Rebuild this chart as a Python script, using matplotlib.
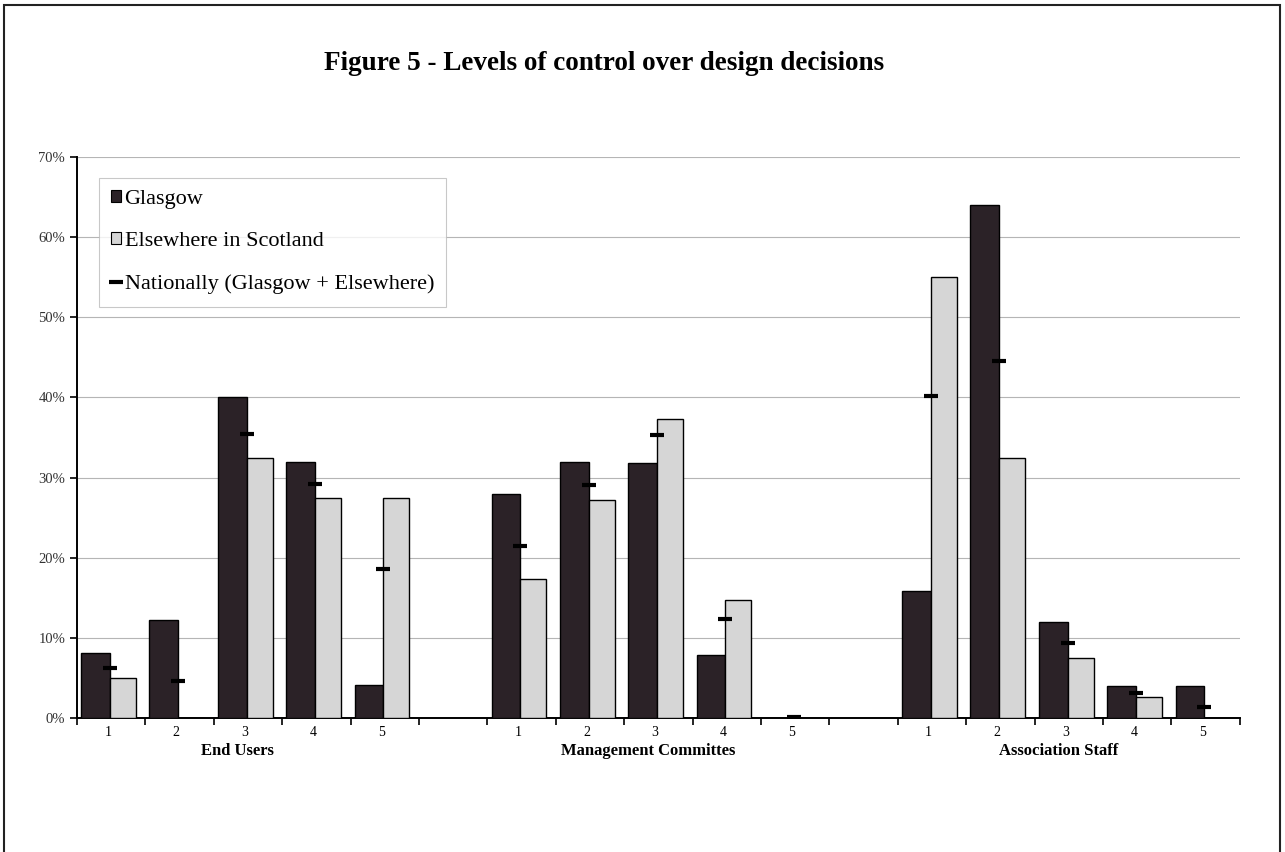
import matplotlib
matplotlib.use("Agg")
import matplotlib.pyplot as plt
from matplotlib.patches import Patch, Rectangle
from matplotlib.lines import Line2D
from matplotlib.ticker import FuncFormatter
import numpy as np

plt.rcParams['font.family'] = ['Liberation Serif', 'DejaVu Serif']

groups = ["End Users", "Management Committes", "Association Staff"]
levels = ["1", "2", "3", "4", "5"]

glasgow = [8.1, 12.2, 40.0, 32.0, 4.1,
           27.9, 31.9, 31.8, 7.9, 0.0,
           15.9, 64.0, 12.0, 4.0, 4.0]
elsewhere = [5.0, 0.0, 32.4, 27.4, 27.4,
             17.4, 27.2, 37.3, 14.7, 0.0,
             55.0, 32.5, 7.5, 2.6, 0.0]
national = [6.25, 4.6, 35.4, 29.2, 18.6,
            21.4, 29.1, 35.3, 12.3, 0.1,
            40.2, 44.6, 9.3, 3.1, 1.4]

dark = "#2b2227"
light = "#d6d6d6"

# slot positions: 5 per group with one empty slot between groups
slots = np.array([g * 6 + k for g in range(3) for k in range(5)], dtype=float)

fig = plt.figure(figsize=(12.85, 8.52), dpi=100)
ax = fig.add_axes([0.0599, 0.1573, 0.905, 0.6584])

ax.bar(slots + 0.06, glasgow, width=0.42, align='edge', color=dark,
       edgecolor='black', linewidth=1.0, zorder=3)
ax.bar(slots + 0.48, elsewhere, width=0.38, align='edge', color=light,
       edgecolor='black', linewidth=1.0, zorder=3)
ax.plot(slots + 0.48, national, linestyle='none', marker='_', markersize=9.5,
        markeredgewidth=3, color='black', zorder=4)

ax.set_xlim(0, 17)
ax.set_ylim(0, 70)
ax.set_yticks(np.arange(0, 71, 10))
ax.yaxis.set_major_formatter(FuncFormatter(lambda v, p: f"{int(v)}%"))
ax.grid(axis='y', color='#b5b5b5', linewidth=0.8, zorder=0)

ax.set_xticks(np.arange(0, 18))
ax.set_xticklabels([])
ax.set_xticks(slots + 0.45, minor=True)
ax.set_xticklabels(levels * 3, minor=True)
ax.tick_params(axis='x', which='major', direction='out', length=5, width=1.2)
ax.tick_params(axis='x', which='minor', length=0, pad=6, labelsize=10)
ax.tick_params(axis='y', direction='out', length=5, width=1.2, labelsize=10.5,
               labelcolor='#333333')

for s in ['top', 'right']:
    ax.spines[s].set_visible(False)
for s in ['left', 'bottom']:
    ax.spines[s].set_linewidth(1.4)

for g, name in enumerate(groups):
    ax.text(g * 6 + 2.35, -0.045, name, transform=ax.get_xaxis_transform(),
            ha='center', va='top', fontsize=12, fontweight='bold')

handles = [Patch(facecolor=dark, edgecolor='black', linewidth=0.8),
           Patch(facecolor=light, edgecolor='black', linewidth=0.8),
           Line2D([0], [0], linestyle='none', marker='_', markersize=10,
                  markeredgewidth=3, color='black')]
leg = ax.legend(handles, ["Glasgow", "Elsewhere in Scotland",
                          "Nationally (Glasgow + Elsewhere)"],
                loc='upper left', bbox_to_anchor=(0.019, 0.963),
                borderaxespad=0, fontsize=16, handlelength=0.45,
                handleheight=0.45, handletextpad=0.15, labelspacing=1.05,
                borderpad=0.55, frameon=True, fancybox=False)
leg.get_frame().set_edgecolor('#bbbbbb')
leg.get_frame().set_linewidth(0.8)

fig.text(0.470, 0.926, "Figure 5 - Levels of control over design decisions",
         ha='center', va='center', fontsize=19.5, fontweight='bold')

fig.patches.append(Rectangle((0.003, -0.01), 0.993, 1.004,
                             transform=fig.transFigure, fill=False,
                             edgecolor='#222222', linewidth=1.5))

fig.savefig("out.png", dpi=100)
